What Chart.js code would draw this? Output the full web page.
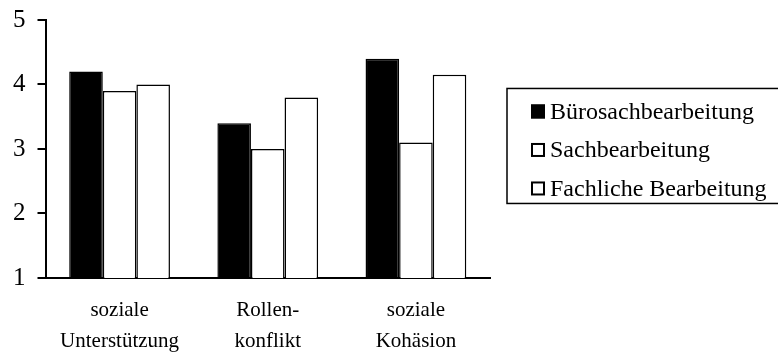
<!DOCTYPE html>
<html>
<head>
<meta charset="utf-8">
<script src="https://cdn.jsdelivr.net/npm/chart.js@4"></script>
<style>
  html, body { margin: 0; padding: 0; background: #fff; }
  #wrap { width: 778px; height: 352px; }
</style>
</head>
<body>
<div id="wrap"><canvas id="c" width="778" height="352"></canvas></div>
<script>
const categories = [['soziale', 'Unterstützung'], ['Rollen-', 'konflikt'], ['soziale', 'Kohäsion']];
const seriesNames = ['Bürosachbearbeitung', 'Sachbearbeitung', 'Fachliche Bearbeitung'];
const buerosachbearbeitung = [4.2, 3.4, 4.4];
const sachbearbeitung = [3.9, 3.0, 3.1];
const fachlicheBearbeitung = [4.0, 3.8, 4.15];
const yTicks = [1, 2, 3, 4, 5];

const FONT = "'Liberation Serif', 'Times New Roman', serif";

// Legend drawn on the canvas, framed, to the right of the plot
const boxLegend = {
  id: 'boxLegend',
  afterDraw(chart) {
    const ctx = chart.ctx;
    const ds = chart.data.datasets;
    const area = chart.chartArea;
    const frameLeft = area.right + 17;
    const markerX = frameLeft + 24;
    const textX = markerX + 19;
    const rowGap = 38.5;
    const midY = (area.top + area.bottom) / 2 + 1;
    const firstY = midY - rowGap * (ds.length - 1) / 2;
    const frameTop = firstY - 23;
    const frameBottom = firstY + rowGap * (ds.length - 1) + 15;
    ctx.save();
    ctx.strokeStyle = '#000';
    ctx.lineWidth = 1.5;
    ctx.strokeRect(frameLeft, frameTop, chart.width + 10 - frameLeft, frameBottom - frameTop);
    ctx.font = '24px ' + FONT;
    ctx.textBaseline = 'middle';
    ctx.textAlign = 'left';
    ds.forEach((d, i) => {
      const y = firstY + i * rowGap;
      ctx.fillStyle = d.backgroundColor;
      ctx.fillRect(markerX, y - 7, 14, 14);
      ctx.lineWidth = 2;
      ctx.strokeStyle = '#000';
      ctx.strokeRect(markerX + 1, y - 6, 12, 12);
      ctx.fillStyle = '#000';
      ctx.fillText(d.label, textX, y + 1);
    });
    ctx.restore();
  }
};

new Chart(document.getElementById('c'), {
  type: 'bar',
  data: {
    labels: categories,
    datasets: [
      { label: seriesNames[0], data: buerosachbearbeitung, backgroundColor: '#000', borderColor: '#000', borderWidth: 1.5 },
      { label: seriesNames[1], data: sachbearbeitung, backgroundColor: '#fff', borderColor: '#000', borderWidth: 1.5 },
      { label: seriesNames[2], data: fachlicheBearbeitung, backgroundColor: '#fff', borderColor: '#000', borderWidth: 1.5 }
    ]
  },
  options: {
    responsive: false,
    animation: false,
    datasets: { bar: { categoryPercentage: 0.68, barPercentage: 1.0 } },
    layout: { padding: { left: 1, top: 20, right: 288, bottom: -22 } },
    plugins: {
      tooltip: { enabled: false },
      legend: { display: false }
    },
    scales: {
      x: {
        grid: { display: false, drawTicks: false },
        border: { display: true, color: '#000', width: 2 },
        ticks: { color: '#000', font: { family: FONT, size: 21, lineHeight: 1.43 }, padding: 18, maxRotation: 0 }
      },
      y: {
        min: 1,
        max: 5,
        afterBuildTicks(scale) { scale.ticks = yTicks.map(v => ({ value: v })); },
        afterFit(scale) { scale.paddingTop = 0; scale.paddingBottom = 0; },
        grid: { drawOnChartArea: false, drawTicks: true, tickLength: 8, color: '#000', lineWidth: 2 },
        border: { display: true, color: '#000', width: 2 },
        ticks: { color: '#000', font: { family: FONT, size: 25 }, padding: 12 }
      }
    }
  },
  plugins: [boxLegend]
});
</script>
</body>
</html>
